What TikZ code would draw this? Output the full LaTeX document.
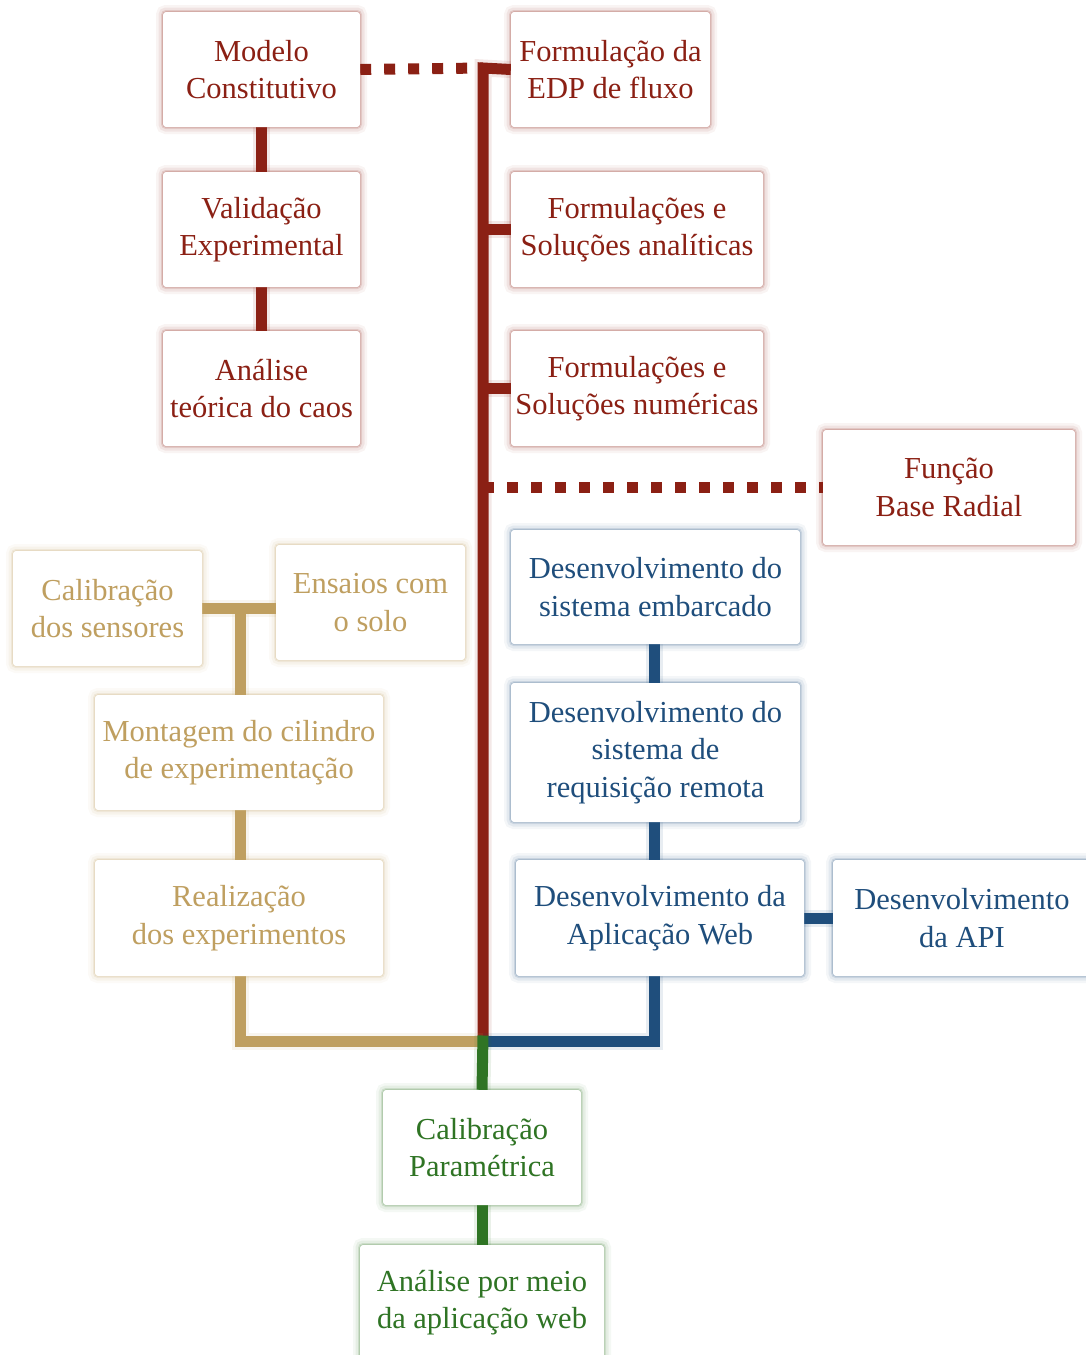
\documentclass[tikz,border=0pt]{standalone}
\usepackage{fontspec}
\setmainfont{Liberation Serif}
\usetikzlibrary{backgrounds}
\definecolor{cred}{HTML}{8B2014}
\definecolor{cblue}{HTML}{1F4E7C}
\definecolor{ctan}{HTML}{BF9F60}
\definecolor{cgreen}{HTML}{2F7424}
\tikzset{
  box/.style={rectangle, rounded corners=3pt, fill=white, inner sep=0pt,
    align=center, text=#1, font=\fontsize{30.5}{37.5}\selectfont,
    preaction={draw=#1, draw opacity=0.05, line width=14pt},
    preaction={draw=#1, draw opacity=0.08, line width=9pt},
    preaction={draw=#1, draw opacity=0.14, line width=4pt},
    preaction={draw=#1, draw opacity=0.25, line width=1.2pt}},
  link/.style={draw=#1, line width=11pt, line join=miter,
    preaction={draw=#1, draw opacity=0.10, line width=17pt}},
  dotlink/.style={draw=#1, line width=11pt, dash pattern=on 11pt off 13pt}
}
\begin{document}
\begin{tikzpicture}[x=1pt, y=-1pt]
\useasboundingbox (0,0) rectangle (1086,1355);

% research track (red)
\node[box=cred, minimum width=197pt, minimum height=115pt] (modelo) at (261.5,69.5) {Modelo\\Constitutivo};
\node[box=cred, minimum width=199pt, minimum height=115pt] (edp) at (610.5,69.5) {Formulação da\\EDP de fluxo};
\node[box=cred, minimum width=197pt, minimum height=115pt] (valid) at (261.5,229.5) {Validação\\Experimental};
\node[box=cred, minimum width=252pt, minimum height=115pt] (analit) at (637,229.5) {Formulações e\\Soluções analíticas};
\node[box=cred, minimum width=197pt, minimum height=115pt] (caos) at (261.5,388.5) {Análise\\teórica do caos};
\node[box=cred, minimum width=252pt, minimum height=115pt] (numer) at (637,388.5) {Formulações e\\Soluções numéricas};
\node[box=cred, minimum width=252pt, minimum height=115pt] (rbf) at (949,487.5) {Função\\Base Radial};

% software track (blue)
\node[box=cblue, minimum width=289pt, minimum height=114pt] (embarc) at (655.5,587) {Desenvolvimento do\\sistema embarcado};
\node[box=cblue, minimum width=289pt, minimum height=139pt] (remota) at (655.5,752.5) {Desenvolvimento do\\sistema de\\requisição remota};
\node[box=cblue, minimum width=288pt, minimum height=116pt] (appweb) at (660,918) {Desenvolvimento da\\Aplicação Web};
\node[box=cblue, minimum width=258pt, minimum height=116pt] (api) at (962,918) {Desenvolvimento\\da API};

% experimental track (tan)
\node[box=ctan, minimum width=189pt, minimum height=115pt] (calsens) at (107.5,608.5) {Calibração\\dos sensores};
\node[box=ctan, minimum width=189pt, minimum height=115pt] (ensaios) at (370.5,602.5) {Ensaios com\\o solo};
\node[box=ctan, minimum width=288pt, minimum height=115pt] (cilindro) at (239,752.5) {Montagem do cilindro\\de experimentação};
\node[box=ctan, minimum width=288pt, minimum height=116pt] (realiz) at (239,918) {Realização\\dos experimentos};

% final stage (green)
\node[box=cgreen, minimum width=198pt, minimum height=115pt] (calpar) at (482,1147.5) {Calibração\\Paramétrica};
\node[box=cgreen, minimum width=244pt, minimum height=115pt] (analise) at (482,1302.5) {Análise por meio\\da aplicação web};

\coordinate (rtop) at (483,68);
\coordinate (hub) at (483,1041);
\coordinate (bx) at (654,0);
\coordinate (tx) at (240,0);

\begin{scope}[on background layer]
  % red spine and branches
  \draw[link=cred] (hub) -- (rtop) -- (edp.west);
  \draw[link=cred] (rtop |- analit.west) -- (analit.west);
  \draw[link=cred] (rtop |- numer.west) -- (numer.west);
  \draw[link=cred] (modelo.south) -- (valid.north);
  \draw[link=cred] (valid.south) -- (caos.north);
  \draw[dotlink=cred] (modelo.east) -- (rtop);
  \draw[dotlink=cred] (rtop |- rbf.west) -- (rbf.west);

  % tan branch
  \draw[link=ctan] (calsens.east) -- (calsens.east -| ensaios.west);
  \draw[link=ctan] (calsens.east -| tx) -- (tx |- cilindro.north);
  \draw[link=ctan] (tx |- cilindro.south) -- (tx |- realiz.north);
  \draw[link=ctan] (tx |- realiz.south) -- (tx |- hub) -- (hub);

  % blue branch
  \draw[link=cblue] (bx |- embarc.south) -- (bx |- remota.north);
  \draw[link=cblue] (bx |- remota.south) -- (bx |- appweb.north);
  \draw[link=cblue] (bx |- appweb.south) -- (bx |- hub) -- (hub);
  \draw[link=cblue] (appweb.east) -- (api.west);

  % green stem
  \draw[link=cgreen] ([yshift=5.5pt]hub) -- (calpar.north);
  \draw[link=cgreen] (calpar.south) -- (analise.north);
\end{scope}
\end{tikzpicture}
\end{document}
